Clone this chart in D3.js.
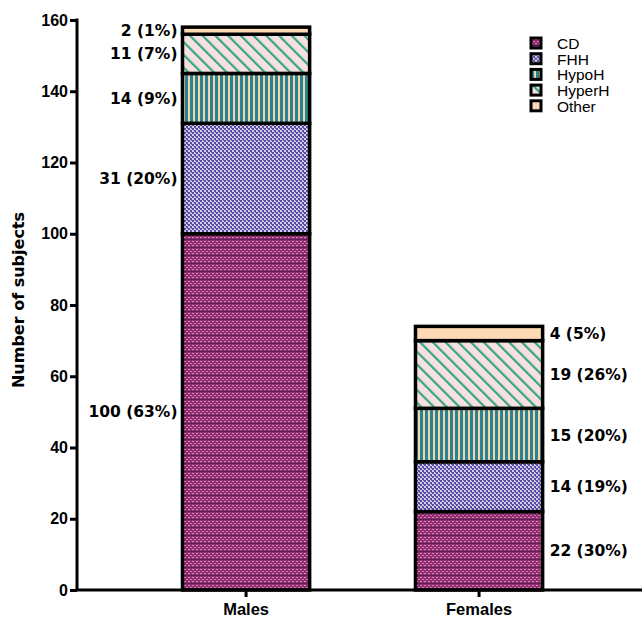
<!DOCTYPE html>
<html>
<head>
<meta charset="utf-8">
<script src="https://cdn.jsdelivr.net/npm/d3@7"></script>
<style>
  body { margin: 0; background: #fff; }
  text { font-family: Arial, "Liberation Sans", sans-serif; }
  .bold { font-family: "DejaVu Sans", sans-serif; font-weight: bold; }
</style>
</head>
<body>
<div id="chart"></div>
<script>
// Data
const groups = ["Males", "Females"];
const categories = ["CD", "FHH", "HypoH", "HyperH", "Other"];
const males = [100, 31, 14, 11, 2];
const females = [22, 14, 15, 19, 4];
const malesPct = [63, 20, 9, 7, 1];
const femalesPct = [30, 19, 20, 26, 5];
const yTicks = [0, 20, 40, 60, 80, 100, 120, 140, 160];

const width = 642, height = 619;
const margin = { top: 20, right: 0, bottom: 29, left: 77 };
const boldFont = "'DejaVu Sans', sans-serif";

const svg = d3.select("#chart").append("svg")
  .attr("width", width).attr("height", height);

// Patterns
const defs = svg.append("defs");

const pCD = defs.append("pattern").attr("id", "pat-CD")
  .attr("patternUnits", "userSpaceOnUse").attr("width", 4).attr("height", 8);
pCD.append("rect").attr("width", 4).attr("height", 8).attr("fill", "#8a2f72");
pCD.append("rect").attr("x", 0).attr("y", 1).attr("width", 2).attr("height", 1).attr("fill", "#f283b0");
pCD.append("rect").attr("x", 2).attr("y", 3).attr("width", 2).attr("height", 1).attr("fill", "#e474a6");
pCD.append("rect").attr("x", 0).attr("y", 5).attr("width", 2).attr("height", 1).attr("fill", "#f283b0");
pCD.append("rect").attr("x", 0).attr("y", 7).attr("width", 4).attr("height", 1).attr("fill", "#5e1f5a");

const pFHH = defs.append("pattern").attr("id", "pat-FHH")
  .attr("patternUnits", "userSpaceOnUse").attr("width", 4).attr("height", 4);
pFHH.append("rect").attr("width", 4).attr("height", 4).attr("fill", "#ddcbe4");
pFHH.append("rect").attr("x", 0).attr("y", 0).attr("width", 2).attr("height", 2).attr("fill", "#4f4ea2");
pFHH.append("rect").attr("x", 2).attr("y", 2).attr("width", 2).attr("height", 2).attr("fill", "#4f4ea2");
pFHH.append("rect").attr("x", 3).attr("y", 0).attr("width", 1).attr("height", 1).attr("fill", "#7472b8");

const pHypo = defs.append("pattern").attr("id", "pat-HypoH")
  .attr("patternUnits", "userSpaceOnUse").attr("width", 5).attr("height", 4);
pHypo.append("rect").attr("width", 5).attr("height", 4).attr("fill", "#f3d6a8");
pHypo.append("rect").attr("x", 0).attr("width", 3).attr("height", 4).attr("fill", "#2b8294");

const pHyper = defs.append("pattern").attr("id", "pat-HyperH")
  .attr("patternUnits", "userSpaceOnUse").attr("width", 9).attr("height", 9)
  .attr("patternTransform", "rotate(-45)");
pHyper.append("rect").attr("width", 9).attr("height", 9).attr("fill", "#f7e0df");
pHyper.append("rect").attr("x", 0).attr("width", 2.2).attr("height", 9).attr("fill", "#34a785");

const pOther = defs.append("pattern").attr("id", "pat-Other")
  .attr("patternUnits", "userSpaceOnUse").attr("width", 4).attr("height", 4);
pOther.append("rect").attr("width", 4).attr("height", 4).attr("fill", "#fdd9b5");

// Scales
const y = d3.scaleLinear().domain([0, 160]).range([height - margin.bottom, margin.top]);
const x = d3.scaleBand().domain(groups).range([margin.left, width])
  .paddingInner(0.45).paddingOuter(0.4375).align(0.515);

// Stack
const rows = groups.map((g, i) => {
  const vals = i === 0 ? males : females;
  const o = { group: g };
  categories.forEach((c, j) => o[c] = vals[j]);
  return o;
});
const pcts = { Males: malesPct, Females: femalesPct };
const series = d3.stack().keys(categories)(rows);

const bw = x.bandwidth() - 1;
const bx = g => x(g) + x.bandwidth() / 2 - bw / 2;

series.forEach((s, j) => {
  svg.append("g").selectAll("rect").data(s).join("rect")
    .attr("x", d => bx(d.data.group))
    .attr("y", d => y(d[1]))
    .attr("width", bw)
    .attr("height", d => y(d[0]) - y(d[1]))
    .attr("fill", `url(#pat-${s.key})`)
    .attr("stroke", "#000")
    .attr("stroke-width", 3.5);
});

// Value labels
series.forEach((s, j) => {
  s.forEach(d => {
    const g = d.data.group;
    const mid = (y(d[0]) + y(d[1])) / 2;
    const left = g === "Males";
    svg.append("text").attr("class", "bold")
      .attr("x", left ? bx(g) - 5 : bx(g) + bw + 7)
      .attr("y", mid)
      .attr("dy", "0.36em")
      .attr("text-anchor", left ? "end" : "start")
      .attr("font-size", 15.5)
      .text(`${d.data[s.key]} (${pcts[g][j]}%)`);
  });
});

// Axes
const yAxis = d3.axisLeft(y).tickValues(yTicks).tickSize(7).tickSizeOuter(0).tickPadding(2);
const gy = svg.append("g").attr("transform", `translate(${margin.left},0)`).call(yAxis);
gy.select(".domain").attr("stroke-width", 3).attr("d", `M0,${margin.top - 1.5}V${height - margin.bottom}`);
gy.selectAll(".tick line").attr("stroke-width", 3);
gy.selectAll(".tick text").attr("font-size", 16).attr("font-weight", "bold")
  .attr("font-family", boldFont).attr("fill", "#000");

const xAxis = d3.axisBottom(x).tickSize(7).tickSizeOuter(0).tickPadding(6);
const gx = svg.append("g").attr("transform", `translate(0,${height - margin.bottom})`).call(xAxis);
gx.select(".domain").attr("stroke-width", 3).attr("d", `M${margin.left - 1.5},0H${width}`);
gx.selectAll(".tick line").attr("stroke-width", 3);
gx.selectAll(".tick text").attr("font-size", 16.5).attr("font-weight", "bold")
  .attr("font-family", boldFont).attr("fill", "#000");

svg.append("text").attr("class", "bold")
  .attr("transform", `translate(24,${(margin.top + height - margin.bottom) / 2 - 5}) rotate(-90)`)
  .attr("text-anchor", "middle")
  .attr("font-size", 16)
  .text("Number of subjects");

// Legend
const legend = svg.append("g").attr("transform", "translate(531,38)");
categories.forEach((c, i) => {
  const row = legend.append("g").attr("transform", `translate(0,${i * 15.7})`);
  row.append("rect").attr("x", 0).attr("y", 0).attr("width", 10).attr("height", 10)
    .attr("fill", `url(#pat-${c})`).attr("stroke", "#000").attr("stroke-width", 3);
  row.append("text").attr("x", 26).attr("y", 5.5).attr("dy", "0.35em")
    .attr("font-size", 15.5).text(c);
});
</script>
</body>
</html>
